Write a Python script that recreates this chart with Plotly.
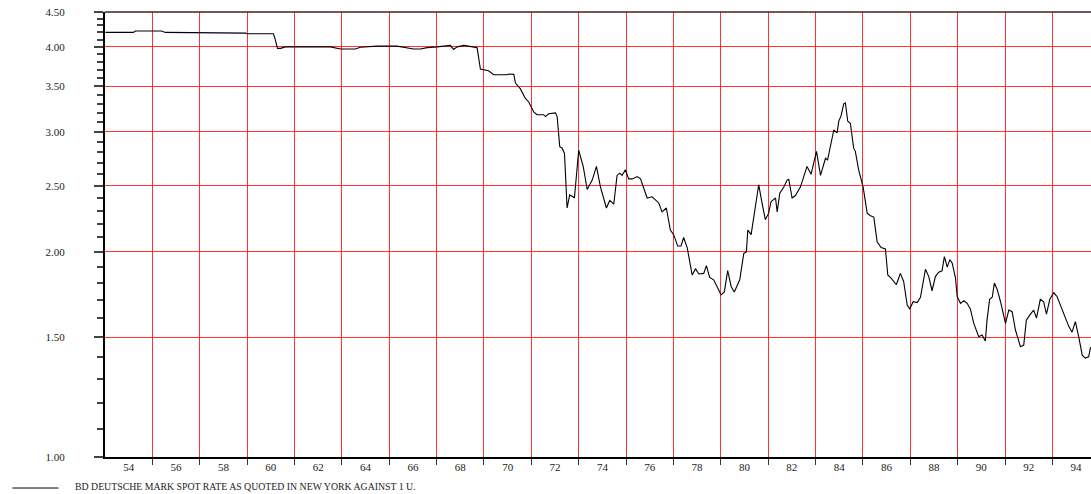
import plotly.graph_objects as go

# Deutsche Mark per US dollar, New York spot quotes (decimal year, DM)
years = [
    1954.02, 1955.20, 1955.28, 1956.38, 1956.55, 1958.32, 1958.41, 1959.93, 1960.01,
    1961.11, 1961.19, 1961.28, 1961.41, 1961.62, 1961.95, 1963.52, 1963.94, 1964.15,
    1964.57, 1964.78, 1965.07, 1965.49, 1966.33, 1966.90, 1967.03, 1967.32, 1967.60,
    1968.02, 1968.51, 1968.58, 1968.72, 1968.87, 1969.15, 1969.29, 1969.64, 1969.71,
    1969.85, 1970.19, 1970.41, 1970.98, 1971.05, 1971.26, 1971.33, 1971.54, 1971.75,
    1971.89, 1972.10, 1972.24, 1972.52, 1972.60, 1972.73, 1973.02, 1973.09, 1973.20,
    1973.30, 1973.40, 1973.51, 1973.62, 1973.76, 1973.82, 1974.00, 1974.19, 1974.36,
    1974.57, 1974.75, 1974.92, 1975.17, 1975.31, 1975.48, 1975.62, 1975.73, 1975.83,
    1975.97, 1976.11, 1976.26, 1976.47, 1976.61, 1976.89, 1977.10, 1977.38, 1977.52,
    1977.70, 1977.87, 1978.01, 1978.18, 1978.32, 1978.43, 1978.58, 1978.79, 1978.93,
    1979.07, 1979.28, 1979.39, 1979.53, 1979.70, 1979.84, 1980.01, 1980.15, 1980.29,
    1980.44, 1980.57, 1980.80, 1980.97, 1981.08, 1981.14, 1981.28, 1981.42, 1981.60,
    1981.74, 1981.88, 1982.02, 1982.12, 1982.31, 1982.38, 1982.49, 1982.66, 1982.80,
    1982.87, 1983.01, 1983.15, 1983.36, 1983.50, 1983.64, 1983.81, 1984.04, 1984.21,
    1984.42, 1984.51, 1984.63, 1984.77, 1984.91, 1984.98, 1985.08, 1985.19, 1985.26,
    1985.36, 1985.47, 1985.61, 1985.68, 1985.82, 1986.01, 1986.18, 1986.32, 1986.46,
    1986.60, 1986.77, 1986.95, 1987.05, 1987.19, 1987.41, 1987.58, 1987.72, 1987.87,
    1987.98, 1988.12, 1988.29, 1988.43, 1988.64, 1988.78, 1988.92, 1989.06, 1989.20,
    1989.34, 1989.44, 1989.56, 1989.67, 1989.77, 1989.91, 1989.98, 1990.12, 1990.26,
    1990.40, 1990.54, 1990.68, 1990.89, 1991.03, 1991.17, 1991.24, 1991.35, 1991.46,
    1991.55, 1991.67, 1991.81, 1992.02, 1992.16, 1992.30, 1992.44, 1992.65, 1992.79,
    1992.90, 1993.04, 1993.21, 1993.33, 1993.49, 1993.63, 1993.75, 1993.89, 1994.06,
    1994.20, 1994.34, 1994.55, 1994.69, 1994.83, 1994.97, 1995.11, 1995.26, 1995.39,
    1995.53, 1995.61,
]
dm_per_usd = [
    4.20, 4.20, 4.22, 4.22, 4.20, 4.20, 4.19, 4.19, 4.18,
    4.18, 4.10, 3.98, 3.98, 4.00, 4.00, 4.00, 3.97, 3.97,
    3.97, 3.995, 4.00, 4.01, 4.01, 3.98, 3.97, 3.97, 3.99,
    4.00, 4.01, 4.02, 3.965, 4.00, 4.02, 4.01, 3.99, 3.99,
    3.71, 3.69, 3.64, 3.64, 3.65, 3.645, 3.54, 3.47, 3.36,
    3.32, 3.21, 3.18, 3.18, 3.16, 3.19, 3.20, 3.16, 2.855,
    2.84, 2.79, 2.32, 2.425, 2.41, 2.40, 2.82, 2.67, 2.47,
    2.55, 2.67, 2.49, 2.32, 2.38, 2.35, 2.59, 2.61, 2.59,
    2.64, 2.56, 2.56, 2.58, 2.56, 2.40, 2.41, 2.36, 2.29,
    2.32, 2.154, 2.12, 2.04, 2.04, 2.10, 2.03, 1.85, 1.89,
    1.856, 1.86, 1.91, 1.835, 1.82, 1.78, 1.73, 1.747, 1.877,
    1.778, 1.747, 1.82, 1.99, 2.00, 2.154, 2.12, 2.30, 2.51,
    2.36, 2.23, 2.28, 2.37, 2.40, 2.29, 2.44, 2.49, 2.55,
    2.557, 2.40, 2.42, 2.49, 2.58, 2.67, 2.60, 2.81, 2.59,
    2.745, 2.73, 2.87, 3.02, 2.99, 3.11, 3.17, 3.30, 3.31,
    3.11, 3.09, 2.84, 2.81, 2.64, 2.49, 2.28, 2.26, 2.25,
    2.07, 2.03, 2.02, 1.85, 1.83, 1.79, 1.86, 1.81, 1.67,
    1.65, 1.69, 1.685, 1.716, 1.886, 1.84, 1.754, 1.84, 1.867,
    1.876, 1.968, 1.90, 1.949, 1.925, 1.83, 1.719, 1.681, 1.696,
    1.681, 1.648, 1.571, 1.502, 1.51, 1.48, 1.588, 1.704, 1.716,
    1.80, 1.762, 1.69, 1.571, 1.643, 1.634, 1.536, 1.452, 1.46,
    1.588, 1.615, 1.643, 1.60, 1.704, 1.69, 1.621, 1.704, 1.742,
    1.719, 1.672, 1.60, 1.555, 1.525, 1.58, 1.502, 1.411, 1.397,
    1.403, 1.449,
]

# Axis ticks: boundaries every two years, labels centred in each band
x_tick_years = list(range(1956, 1996, 2))
x_label_years = list(range(1955, 1996, 2))
x_label_text = [f"{(y - 1) % 100:02d}" for y in x_label_years]

y_major = [1.0, 1.5, 2.0, 2.5, 3.0, 3.5, 4.0, 4.5]
y_major_text = ["1.00", "1.50", "2.00", "2.50", "3.00", "3.50", "4.00", "4.50"]
y_minor = [round(1.0 + 0.1 * i, 1) for i in range(1, 35) if round(1.0 + 0.1 * i, 1) not in y_major]

legend_label = "BD DEUTSCHE MARK SPOT RATE AS QUOTED IN NEW YORK AGAINST 1 U."

x_range = [1954.0, 1995.63]
serif = "Liberation Serif, Times New Roman, serif"
grid_red = "rgba(255,0,0,0.8)"

fig = go.Figure()
fig.add_trace(go.Scatter(
    x=years, y=dm_per_usd, mode="lines",
    line=dict(color="black", width=1.1),
    showlegend=False, hoverinfo="x+y",
))
# invisible trace carrying the centred year labels
fig.add_trace(go.Scatter(
    x=[x_range[0], x_range[1]], y=[1.0, 1.0], mode="lines",
    line=dict(width=0), xaxis="x2", showlegend=False, hoverinfo="skip",
))

fig.update_layout(
    width=1091, height=494,
    margin=dict(l=105, r=0, t=12, b=37),
    paper_bgcolor="white", plot_bgcolor="white",
    font=dict(family=serif, size=11, color="#222"),
    xaxis=dict(
        range=x_range, tickmode="array", tickvals=x_tick_years,
        showticklabels=False, ticks="outside", ticklen=6, tickwidth=1,
        tickcolor="#333", showgrid=True, gridcolor=grid_red, gridwidth=1,
        showline=True, linecolor="black", linewidth=2, zeroline=False,
    ),
    xaxis2=dict(
        range=x_range, overlaying="x", anchor="y", side="bottom",
        tickmode="array", tickvals=x_label_years, ticktext=x_label_text,
        ticks="", showgrid=False, showline=False, zeroline=False,
        ticklabelstandoff=2,
        tickfont=dict(family=serif, size=11, color="#222"),
    ),
    yaxis=dict(
        type="log", range=[0, 0.65321], tickmode="array",
        tickvals=y_major, ticktext=y_major_text,
        ticks="outside", ticklen=9, tickwidth=1.5, tickcolor="#444",
        ticklabelstandoff=27,
        tickfont=dict(family=serif, size=11, color="#222"),
        showgrid=True, gridcolor=grid_red, gridwidth=1,
        showline=True, linecolor="black", linewidth=2, zeroline=False,
        minor=dict(tickvals=y_minor, ticks="outside", ticklen=6,
                   tickwidth=1.5, tickcolor="#444", showgrid=False),
    ),
    shapes=[
        dict(type="line", xref="paper", yref="paper", x0=0, x1=1, y0=1, y1=1,
             line=dict(color="#402020", width=1.5)),
        dict(type="line", xref="paper", yref="paper", x0=-0.0939, x1=-0.0472,
             y0=-0.0697, y1=-0.0697, line=dict(color="black", width=1)),
    ],
    annotations=[
        dict(text=legend_label, xref="paper", yref="paper", x=-0.032, y=-0.066,
             xanchor="left", yanchor="middle", showarrow=False,
             font=dict(family=serif, size=9.8, color="#222")),
    ],
)

fig.write_html("out.html")
